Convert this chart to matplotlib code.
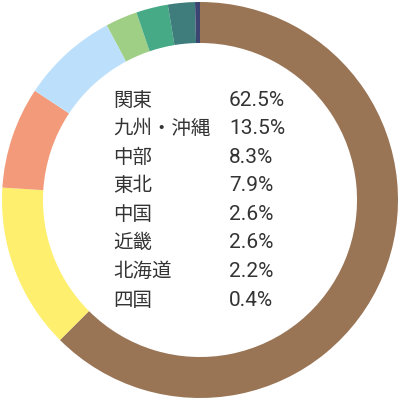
import matplotlib
matplotlib.use("Agg")
import matplotlib.pyplot as plt

regions = ["関東", "九州・沖縄", "中部", "東北", "中国", "近畿", "北海道", "四国"]
shares = [62.5, 13.5, 8.3, 7.9, 2.6, 2.6, 2.2, 0.4]
labels_pct = ["62.5%", "13.5%", "8.3%", "7.9%", "2.6%", "2.6%", "2.2%", "0.4%"]
colors = ["#997555", "#FEF06E", "#F29A7A", "#BCE0FC", "#9FCF85", "#45AA85", "#3F7C7C", "#3C4472"]

fig = plt.figure(figsize=(4, 4), dpi=100)
ax = fig.add_axes([0, 0, 1, 1])
ax.pie(shares, colors=colors, startangle=90, counterclock=False,
       wedgeprops=dict(width=0.207, edgecolor="none"), radius=1.0)
ax.set_xlim(-200/198, 200/198)
ax.set_ylim(-200/198, 200/198)
ax.set_aspect("equal")
ax.axis("off")

for i, (r, p) in enumerate(zip(regions, labels_pct)):
    yc = 1 - (100 + i * 200 / 7) / 400
    fig.text(113/400, yc, r, fontsize=14, color="#333333", va="center", ha="left",
             family=["Noto Sans CJK JP", "DejaVu Sans"])
    fig.text(229/400, yc, p, fontsize=15, color="#333333", va="center", ha="left",
             family=["Roboto", "DejaVu Sans"])

fig.savefig("out.png", dpi=100, facecolor="white")
